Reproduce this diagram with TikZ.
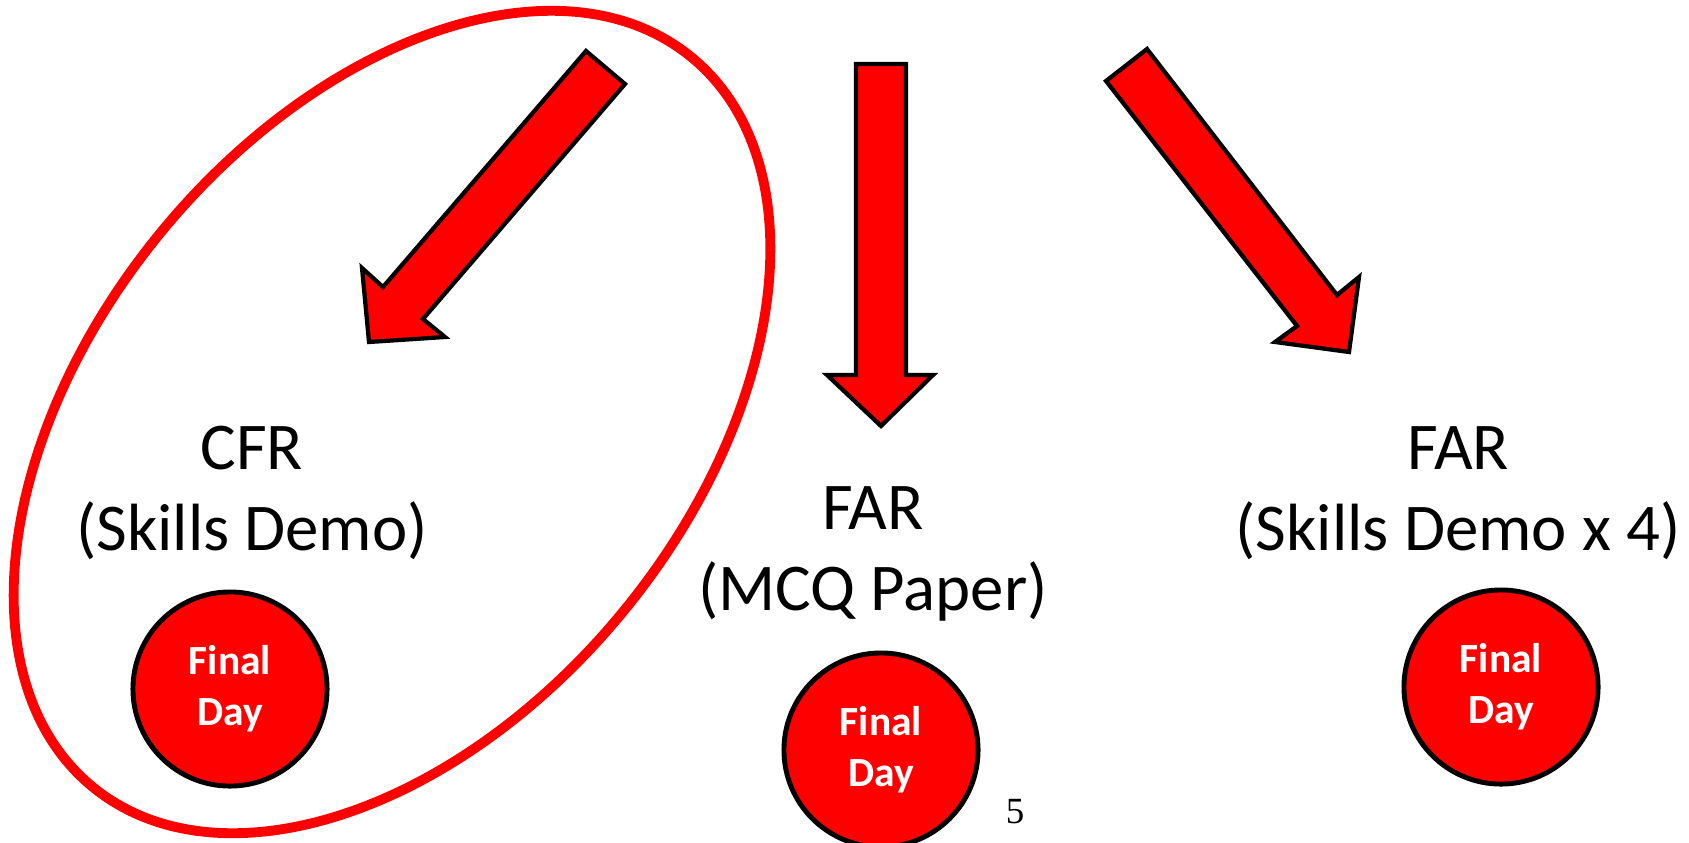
\documentclass[tikz,border=0pt]{standalone}
\usepackage{fontspec}
\setmainfont{Carlito}
\newfontfamily\pagefont{Liberation Serif}

\begin{document}
\begin{tikzpicture}[x=0.01cm,y=-0.01cm,
  course/.style={font=\fontsize{19}{23}\selectfont, align=center},
  finalday/.style={circle, draw=black, line width=1.4pt, fill=red, minimum size=1.94cm, inner sep=0pt,
    text=white, font=\fontsize{11.8}{14.6}\selectfont\bfseries, align=center},
  bigarrow/.style={fill=red, draw=black, line width=1.2pt, line join=miter},
  ring/.style={draw=red, line width=2.8pt}]
\useasboundingbox (0,0) rectangle (1689,842);

\draw[ring, rotate around={50.6:(392,422)}] (392,422) ellipse [x radius=472, y radius=299];

\filldraw[bigarrow] (586,51) -- (383,287) -- (362,268) -- (369,342) -- (445,337) -- (423,319) -- (625,84) -- cycle;
\filldraw[bigarrow] (856,64) -- (856,375) -- (827,375) -- (881,426) -- (933,375) -- (906,375) -- (906,64) -- cycle;
\filldraw[bigarrow] (1106,81) -- (1297,326) -- (1275,342) -- (1349,352) -- (1359,277) -- (1337,295) -- (1147,49) -- cycle;

\node[course] (cfr) at (252,493) {CFR\\(Skills Demo)};
\node[course] (farmcq) at (873,554) {FAR\\(MCQ Paper)};
\node[course] (farskills) at (1458,493) {FAR\\(Skills Demo x 4)};

\node[finalday] (dayleft) at (230,689) {Final\\Day};
\node[finalday] (daymid) at (881,750) {Final\\Day};
\node[finalday] (dayright) at (1501,687) {Final\\Day};

\node[font=\pagefont\fontsize{10.5}{12}\selectfont] (pagenum) at (1015,812) {5};

\end{tikzpicture}
\end{document}
